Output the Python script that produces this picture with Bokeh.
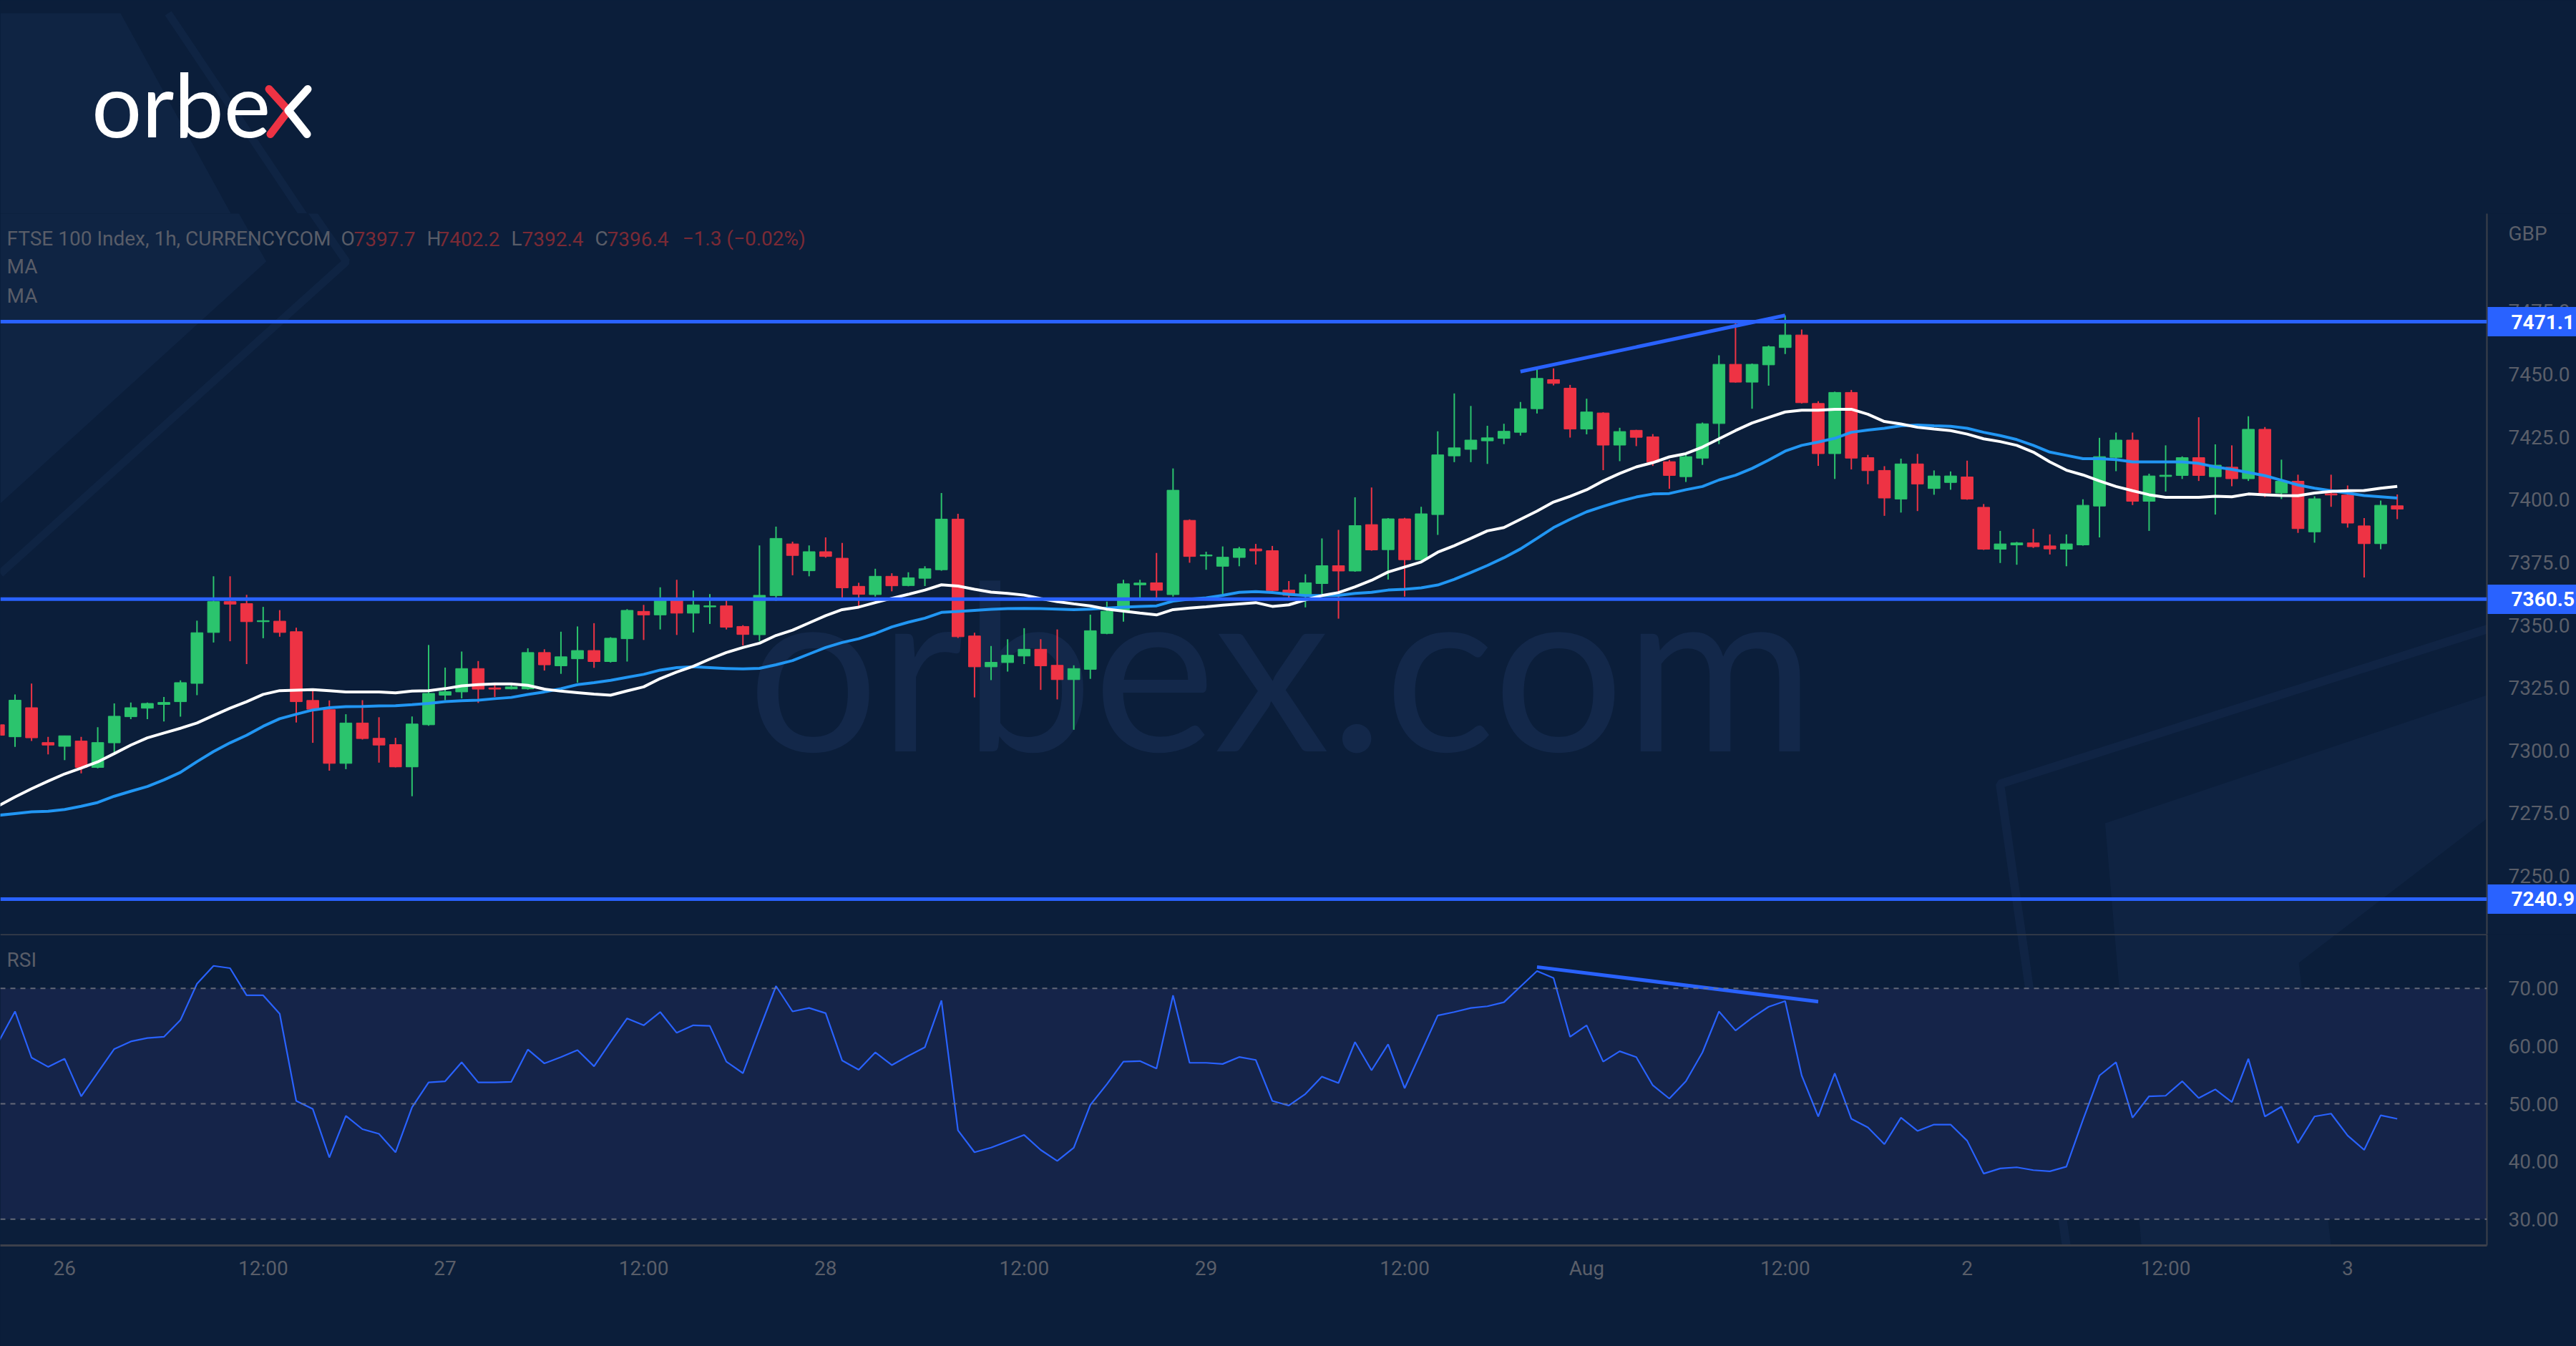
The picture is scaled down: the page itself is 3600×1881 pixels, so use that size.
from bokeh.plotting import figure
from bokeh.models import (Range1d, FixedTicker, NumeralTickFormatter, LinearAxis,
                          Label, Span, BoxAnnotation, ColumnDataSource)
from bokeh.layouts import column
from bokeh.embed import file_html
from bokeh.resources import INLINE

# ---------------- data ----------------
bar_index = list(range(-1, 145))

opens = [7310.4, 7305.6, 7317.2, 7303.3, 7301.8, 7303.9, 7293.4, 7303.2, 7313.6, 7317.0,
         7318.5, 7319.6, 7326.9, 7347.2, 7359.5, 7358.7, 7351.5, 7351.7, 7347.5, 7320.1,
         7316.4, 7295.0, 7311.1, 7305.0, 7302.5, 7293.6, 7310.4, 7322.2, 7323.5, 7332.8,
         7325.1, 7324.7, 7324.7, 7339.2, 7333.9, 7336.7, 7340.0, 7335.6, 7344.7, 7355.6,
         7354.2, 7360.5, 7354.9, 7357.4, 7357.8, 7349.6, 7346.3, 7361.9, 7382.5, 7371.8,
         7379.4, 7376.8, 7365.6, 7362.3, 7369.6, 7365.9, 7368.8, 7372.2, 7392.4, 7345.8,
         7333.5, 7335.2, 7337.8, 7340.5, 7334.1, 7328.4, 7332.5, 7346.8, 7356.0, 7366.2,
         7367.0, 7362.3, 7391.9, 7377.7, 7373.6, 7377.1, 7380.5, 7379.8, 7364.1, 7362.0,
         7366.7, 7373.8, 7371.7, 7390.2, 7380.2, 7392.5, 7376.2, 7394.2, 7417.6, 7420.2,
         7423.6, 7424.6, 7427.0, 7436.4, 7448.0, 7444.6, 7428.3, 7434.7, 7421.9, 7427.8,
         7425.2, 7415.3, 7409.3, 7416.7, 7430.5, 7454.1, 7447.0, 7453.9, 7460.8, 7465.8,
         7438.5, 7418.5, 7442.9, 7416.9, 7411.8, 7400.4, 7414.4, 7404.6, 7407.0, 7409.2,
         7397.1, 7380.4, 7382.1, 7382.9, 7381.7, 7380.4, 7382.1, 7397.6, 7417.0, 7423.9,
         7399.5, 7409.4, 7409.8, 7416.9, 7409.3, 7413.1, 7408.5, 7428.2, 7402.8, 7407.5,
         7387.3, 7402.5, 7402.0, 7389.7, 7382.6, 7397.7]
highs = [7311.8, 7322.5, 7326.8, 7305.6, 7306.0, 7305.6, 7309.4, 7318.9, 7319.3, 7319.3,
         7321.5, 7328.1, 7351.9, 7369.6, 7369.6, 7362.2, 7357.4, 7356.1, 7349.1, 7324.4,
         7320.1, 7314.6, 7320.2, 7313.4, 7305.2, 7313.7, 7342.2, 7333.2, 7339.6, 7335.8,
         7327.2, 7326.8, 7340.9, 7340.5, 7347.5, 7349.6, 7350.9, 7345.3, 7356.5, 7358.2,
         7365.2, 7368.2, 7363.9, 7362.5, 7360.5, 7350.1, 7381.9, 7389.4, 7383.4, 7381.9,
         7385.1, 7382.9, 7367.0, 7372.6, 7370.8, 7371.2, 7373.6, 7402.8, 7394.5, 7347.1,
         7341.8, 7344.5, 7348.9, 7344.5, 7348.4, 7334.1, 7354.3, 7359.5, 7368.2, 7368.2,
         7378.9, 7412.6, 7392.3, 7379.4, 7381.5, 7381.3, 7382.5, 7381.7, 7367.7, 7370.4,
         7384.7, 7388.1, 7401.1, 7405.0, 7392.8, 7392.9, 7397.3, 7427.4, 7442.5, 7437.5,
         7429.6, 7430.4, 7439.1, 7452.3, 7452.5, 7445.9, 7440.4, 7435.0, 7428.8, 7428.0,
         7426.3, 7416.0, 7418.0, 7430.9, 7457.7, 7470.9, 7454.4, 7461.6, 7473.6, 7468.0,
         7439.4, 7443.2, 7443.9, 7418.0, 7413.5, 7416.5, 7418.4, 7411.8, 7411.4, 7415.7,
         7398.4, 7387.7, 7383.3, 7388.5, 7386.3, 7386.3, 7400.3, 7424.8, 7426.9, 7426.9,
         7410.5, 7421.8, 7417.4, 7433.0, 7422.2, 7421.8, 7433.4, 7429.1, 7416.1, 7410.1,
         7401.5, 7410.1, 7405.8, 7392.8, 7399.8, 7402.2]
lows = [7305.0, 7301.6, 7303.9, 7298.6, 7296.3, 7291.0, 7293.0, 7298.4, 7312.6, 7312.6,
        7311.7, 7313.6, 7322.2, 7343.2, 7343.7, 7334.6, 7344.9, 7345.5, 7311.3, 7303.2,
        7292.1, 7292.7, 7304.5, 7295.3, 7293.4, 7281.9, 7310.0, 7320.2, 7320.9, 7319.1,
        7321.5, 7324.5, 7324.4, 7332.0, 7330.7, 7327.2, 7333.1, 7335.2, 7335.6, 7344.2,
        7348.4, 7346.2, 7347.2, 7350.6, 7348.4, 7342.0, 7343.8, 7359.8, 7370.0, 7369.6,
        7377.0, 7360.7, 7357.3, 7361.5, 7363.6, 7365.6, 7365.7, 7371.8, 7345.0, 7321.3,
        7328.2, 7331.6, 7334.6, 7324.3, 7320.5, 7308.4, 7328.7, 7346.5, 7351.5, 7360.8,
        7359.8, 7361.5, 7375.0, 7372.2, 7362.4, 7373.6, 7374.3, 7362.8, 7360.7, 7357.2,
        7362.5, 7352.7, 7371.4, 7379.8, 7368.3, 7361.5, 7375.9, 7386.1, 7415.1, 7415.1,
        7414.4, 7422.3, 7425.7, 7434.5, 7445.7, 7424.9, 7426.2, 7411.9, 7415.5, 7421.5,
        7413.6, 7404.5, 7407.2, 7414.0, 7422.3, 7446.8, 7436.4, 7445.6, 7458.2, 7438.5,
        7413.6, 7408.4, 7412.2, 7406.3, 7393.7, 7395.0, 7395.6, 7402.1, 7404.1, 7400.1,
        7380.1, 7374.9, 7374.2, 7380.9, 7378.3, 7373.6, 7381.8, 7385.1, 7411.5, 7398.0,
        7387.7, 7403.4, 7408.4, 7407.6, 7394.2, 7405.5, 7407.6, 7401.2, 7400.4, 7386.9,
        7383.0, 7397.3, 7389.0, 7369.1, 7380.4, 7392.4]
closes = [7306.2, 7320.2, 7305.2, 7302.3, 7306.0, 7293.4, 7303.3, 7313.8, 7317.2, 7318.9,
          7319.3, 7327.2, 7347.1, 7359.5, 7358.5, 7351.5, 7351.9, 7347.2, 7319.6, 7316.6,
          7295.0, 7311.1, 7304.9, 7302.3, 7293.6, 7310.7, 7322.9, 7323.6, 7332.8, 7324.6,
          7324.6, 7325.5, 7339.2, 7334.3, 7337.5, 7340.0, 7335.6, 7344.9, 7356.0, 7354.2,
          7360.5, 7354.9, 7358.2, 7357.8, 7349.3, 7346.4, 7362.0, 7384.7, 7377.9, 7379.4,
          7377.5, 7365.0, 7362.4, 7369.6, 7365.8, 7369.0, 7372.6, 7392.4, 7345.5, 7333.5,
          7335.3, 7338.1, 7340.5, 7333.9, 7328.4, 7332.8, 7347.9, 7355.7, 7366.6, 7366.9,
          7364.0, 7403.9, 7377.5, 7378.1, 7377.2, 7380.6, 7379.7, 7363.9, 7362.0, 7367.0,
          7373.8, 7371.7, 7389.8, 7380.1, 7392.5, 7376.2, 7394.5, 7418.0, 7420.8, 7423.9,
          7424.8, 7427.4, 7436.4, 7448.5, 7446.5, 7428.3, 7435.1, 7421.9, 7427.3, 7425.0,
          7415.1, 7409.8, 7417.3, 7430.4, 7454.1, 7447.0, 7454.1, 7461.1, 7465.8, 7438.8,
          7418.5, 7442.9, 7416.7, 7411.7, 7400.8, 7414.4, 7406.4, 7409.6, 7409.6, 7400.4,
          7380.4, 7382.5, 7382.9, 7381.4, 7380.5, 7382.5, 7397.9, 7417.3, 7423.9, 7399.5,
          7409.6, 7409.9, 7416.9, 7409.8, 7413.9, 7408.5, 7428.2, 7402.8, 7407.5, 7388.6,
          7400.5, 7402.0, 7390.8, 7382.6, 7397.9, 7396.4]

ma_fast = [7278.1, 7281.6, 7284.9, 7287.9, 7290.8, 7293.1, 7295.6, 7298.9, 7302.3, 7305.2,
           7307.1, 7309.0, 7311.1, 7314.1, 7317.0, 7319.6, 7322.5, 7324.0, 7324.2, 7324.4,
           7324.0, 7323.5, 7323.5, 7323.5, 7323.1, 7323.8, 7324.0, 7324.8, 7325.9, 7326.4,
           7326.7, 7326.7, 7326.1, 7324.6, 7323.8, 7323.2, 7322.6, 7322.2, 7323.9, 7325.5,
           7328.8, 7331.4, 7333.7, 7336.6, 7339.2, 7341.2, 7342.9, 7346.0, 7348.1, 7351.0,
           7353.9, 7356.3, 7357.3, 7359.1, 7360.8, 7362.4, 7364.1, 7366.2, 7365.7, 7364.4,
           7363.3, 7362.8, 7362.1, 7360.7, 7359.5, 7358.6, 7357.8, 7356.5, 7355.7, 7354.9,
           7354.2, 7356.3, 7356.9, 7357.4, 7358.1, 7358.6, 7359.1, 7357.6, 7358.2, 7360.2,
           7361.9, 7363.1, 7365.4, 7368.0, 7371.3, 7373.3, 7375.3, 7379.2, 7381.8, 7384.7,
           7387.7, 7389.0, 7392.3, 7395.6, 7399.2, 7401.5, 7404.1, 7407.6, 7410.6, 7413.2,
           7414.9, 7417.2, 7418.5, 7421.1, 7424.4, 7427.7, 7430.7, 7432.9, 7435.1, 7435.8,
           7435.8, 7436.2, 7436.2, 7434.2, 7431.3, 7430.3, 7429.0, 7428.3, 7427.7, 7426.3,
           7424.4, 7423.3, 7421.8, 7419.1, 7415.2, 7411.9, 7410.0, 7407.6, 7405.4, 7403.7,
           7402.1, 7401.1, 7401.1, 7401.1, 7401.5, 7401.3, 7402.4, 7402.1, 7401.8, 7401.7,
           7402.8, 7403.4, 7403.7, 7403.8, 7404.7, 7405.4]
ma_slow = [7274.3, 7275.0, 7275.7, 7275.9, 7276.6, 7277.9, 7279.4, 7281.9, 7283.9, 7285.8,
           7288.4, 7291.4, 7295.7, 7299.7, 7303.2, 7306.2, 7309.8, 7312.8, 7314.6, 7316.3,
           7317.2, 7317.6, 7317.7, 7317.9, 7318.0, 7318.4, 7318.9, 7319.6, 7320.0, 7320.2,
           7320.8, 7321.3, 7322.5, 7323.5, 7324.8, 7326.4, 7327.2, 7328.1, 7329.3, 7330.5,
           7332.2, 7333.2, 7333.5, 7333.2, 7332.8, 7332.7, 7332.9, 7334.3, 7336.0, 7338.6,
           7341.2, 7343.2, 7344.7, 7346.8, 7349.4, 7351.3, 7352.9, 7355.2, 7355.6, 7356.0,
           7356.4, 7356.7, 7356.8, 7356.7, 7356.5, 7356.3, 7356.5, 7356.9, 7357.3, 7357.6,
           7357.8, 7359.7, 7360.5, 7361.0, 7362.0, 7363.2, 7363.5, 7363.1, 7362.4, 7361.9,
           7361.9, 7362.0, 7362.8, 7363.2, 7364.1, 7364.4, 7365.0, 7366.1, 7368.4, 7371.1,
           7373.9, 7377.0, 7380.5, 7384.7, 7389.0, 7392.3, 7395.3, 7397.5, 7399.5, 7401.2,
           7402.4, 7402.6, 7404.1, 7405.4, 7408.0, 7409.9, 7412.6, 7415.9, 7419.5, 7421.8,
           7423.1, 7424.6, 7427.0, 7427.9, 7428.6, 7429.6, 7429.9, 7429.6, 7429.4, 7428.6,
           7427.0, 7425.7, 7424.1, 7421.8, 7419.1, 7417.8, 7416.5, 7416.5, 7416.1, 7415.2,
           7415.2, 7415.2, 7415.2, 7414.6, 7413.2, 7412.2, 7411.0, 7409.7, 7407.9, 7406.0,
           7404.7, 7403.7, 7402.8, 7401.8, 7401.3, 7400.8]

rsi = [60.7, 66.0, 58.0, 56.4, 57.8, 51.3, 55.4, 59.5, 60.8, 61.4,
       61.6, 64.5, 70.8, 73.9, 73.5, 68.8, 68.8, 65.6, 50.5, 49.1,
       40.7, 47.9, 45.6, 44.8, 41.6, 49.4, 53.7, 53.9, 57.2, 53.7,
       53.7, 53.8, 59.4, 57.0, 58.1, 59.3, 56.5, 60.7, 64.8, 63.6,
       65.9, 62.3, 63.6, 63.5, 57.3, 55.3, 62.9, 70.4, 66.0, 66.6,
       65.7, 57.5, 55.9, 58.9, 56.7, 58.3, 59.8, 67.9, 45.4, 41.6,
       42.4, 43.5, 44.6, 42.0, 40.1, 42.4, 49.8, 53.4, 57.3, 57.4,
       56.1, 68.8, 57.1, 57.1, 56.9, 58.1, 57.6, 50.5, 49.7, 51.7,
       54.7, 53.6, 60.7, 55.8, 60.3, 52.7, 59.0, 65.3, 65.9, 66.6,
       66.9, 67.6, 70.3, 73.0, 71.8, 61.6, 63.6, 57.3, 59.1, 58.1,
       53.2, 50.9, 53.9, 58.9, 66.0, 62.7, 64.9, 66.8, 67.8, 54.9,
       47.8, 55.3, 47.4, 45.9, 43.0, 47.6, 45.3, 46.4, 46.4, 43.6,
       37.9, 38.8, 39.0, 38.5, 38.3, 39.1, 47.2, 54.9, 57.2, 47.6,
       51.3, 51.4, 53.9, 51.0, 52.5, 50.3, 57.8, 47.8, 49.5, 43.2,
       47.8, 48.3, 44.5, 42.0, 48.0, 47.4]

levels = [7471.1, 7360.5, 7240.9]
price_ticks = [7250, 7275, 7300, 7325, 7350, 7375, 7400, 7425, 7450, 7475]
currency_label = "GBP"
currency_label_at = 7506.2
rsi_ticks = [30, 40, 50, 60, 70]
rsi_levels = [70, 50, 30]
time_tick_index = [3, 15, 26, 38, 49, 61, 72, 84, 95, 107, 118, 130, 141]
time_tick_labels = ["26", "12:00", "27", "12:00", "28", "12:00", "29", "12:00",
                    "Aug", "12:00", "2", "12:00", "3"]
price_div_x = [91, 107]
price_div_y = [7451.2, 7473.6]
rsi_div_x = [92, 109]
rsi_div_y = [73.7, 67.7]

# ---------------- style ----------------
BG = "#0b1e3a"
DECO = "#0f2443"
LIGHT = "#6f9cff"
GREEN = "#2bc46d"
RED = "#ee3344"
BLUE = "#2962ff"
MA_BLUE = "#2196f3"
AX = "#5a5e69"
SEP = "#3c404b"
FONT = "Roboto"
W = 3600
FRAME_W = 3478
RIGHT = W - FRAME_W
x_rng = Range1d(-0.886, 149.42)
P_LO, P_HI = 7226.9, 7514.2


def base(height, y_range, bottom=0):
    f = figure(width=W, height=height, x_range=x_rng, y_range=y_range,
               toolbar_location=None, output_backend="svg", title=None,
               x_axis_location=None, y_axis_location=None,
               min_border_left=0, min_border_right=RIGHT, min_border_top=0,
               min_border_bottom=bottom, background_fill_color=BG,
               border_fill_color=BG, outline_line_color=None)
    f.xgrid.visible = False
    f.ygrid.visible = False
    return f


# decorative shapes of the branded background (page pixels)
deco_poly = [(0, 18), (174, 18), (372, 365), (0, 703)]
deco_stripe = [(243, 18), (484, 365), (0, 801)]
deco_br_band = [(2944, 1150), (3600, 930), (3600, 1050), (3215, 1345), (3276, 1881), (3007, 1881)]
deco_br_stripe = [(3600, 840), (2797, 1095), (2910, 1881)]


def to_bar(px):
    return (px - 20.5) / 23.14


def to_price(py):
    return 7471.1 - (py - 449) / 3.505


def to_rsi(py):
    return 70 - (py - 1380.7) / 8.066


def add_br_deco(fig, conv_y):
    fig.patch([to_bar(q[0]) for q in deco_br_band], [conv_y(q[1]) for q in deco_br_band],
              fill_color=LIGHT, fill_alpha=0.045, line_color=None, level="underlay")
    fig.line([to_bar(q[0]) for q in deco_br_stripe], [conv_y(q[1]) for q in deco_br_stripe],
             line_color=LIGHT, line_alpha=0.05, line_width=12, level="underlay")


# ---------------- header (logo) ----------------
head = figure(width=W, height=298, x_range=Range1d(0, W), y_range=Range1d(0, 298),
              toolbar_location=None, output_backend="svg", title=None,
              x_axis_location=None, y_axis_location=None, min_border=0,
              background_fill_color=BG, border_fill_color=BG, outline_line_color=None)
head.xgrid.visible = False
head.ygrid.visible = False
head.patch([q[0] for q in deco_poly], [298 - q[1] for q in deco_poly],
           fill_color=DECO, line_color=None)
head.line([q[0] for q in deco_stripe], [298 - q[1] for q in deco_stripe],
          line_color=DECO, line_width=11)
head.add_layout(Label(x=132, y=155, text="orbe", text_font="Lato", text_font_size="124px",
                      text_color="#ffffff", text_baseline="middle"))
head.multi_line(xs=[[389, 417, 391]], ys=[[174, 144, 111]], line_color=RED,
                line_width=11, line_cap="round", line_join="round")
head.multi_line(xs=[[445, 417, 444]], ys=[[174, 144, 111]], line_color="#ffffff",
                line_width=11, line_cap="round", line_join="round")

# ---------------- price pane ----------------
p = base(1007, Range1d(P_LO, P_HI))

p.patch([to_bar(q[0]) for q in deco_poly], [to_price(q[1]) for q in deco_poly],
        fill_color=DECO, line_color=None, level="underlay")
p.line([to_bar(q[0]) for q in deco_stripe], [to_price(q[1]) for q in deco_stripe],
       line_color=DECO, line_width=11, level="underlay")
add_br_deco(p, to_price)

up = [c >= o for o, c in zip(opens, closes)]
src = ColumnDataSource(dict(
    x=bar_index, o=opens, h=highs, l=lows, c=closes,
    top=[max(o, c) for o, c in zip(opens, closes)],
    bot=[min(o, c) for o, c in zip(opens, closes)],
    col=[GREEN if u else RED for u in up]))

p.add_layout(Label(x=1790, y=381, x_units="screen", y_units="screen", text="orbex.com",
                   text_align="center", text_baseline="middle", text_font="Lato",
                   text_font_size="324px", text_color="#13284a", level="underlay"))

for lv in levels:
    p.add_layout(Span(location=lv, dimension="width", line_color=BLUE, line_width=5))

p.segment(x0="x", y0="h", x1="x", y1="l", color="col", line_width=2, source=src)
p.vbar(x="x", top="top", bottom="bot", width=0.72, fill_color="col",
       line_color="col", line_width=1, source=src)
p.line(bar_index, ma_slow, line_color=MA_BLUE, line_width=4)
p.line(bar_index, ma_fast, line_color="#ffffff", line_width=4)
p.line(price_div_x, price_div_y, line_color=BLUE, line_width=5)

# price scale (right)
pax = LinearAxis(ticker=FixedTicker(ticks=price_ticks + [currency_label_at]),
                 formatter=NumeralTickFormatter(format="0.0"),
                 major_label_overrides={currency_label_at: currency_label},
                 axis_line_color=SEP, axis_line_width=2,
                 major_tick_line_color=None, minor_tick_line_color=None,
                 major_label_standoff=24, major_label_text_color=AX,
                 major_label_text_font=FONT, major_label_text_font_size="28px")
p.add_layout(pax, "right")
# price tags of the horizontal levels (blue boxes drawn as wide ticks)
tag = LinearAxis(ticker=FixedTicker(ticks=levels, minor_ticks=[]),
                 formatter=NumeralTickFormatter(format="0.0"),
                 axis_line_color=None, minor_tick_line_color=None,
                 major_tick_line_color=BLUE, major_tick_line_width=41,
                 major_tick_in=118, major_tick_out=6,
                 major_label_standoff=-91, major_label_text_color="#ffffff",
                 major_label_text_font_style="bold",
                 major_label_text_font=FONT, major_label_text_font_size="28px")
p.add_layout(tag, "right")

HDR_Y = 972
GRAY_T = "#595d68"
RED_T = "#7a2a35"
pieces = [("FTSE 100 Index, 1h, CURRENCYCOM", 9, GRAY_T), ("O", 476, GRAY_T),
          ("7397.7", 494, RED_T), ("H", 596, GRAY_T), ("7402.2", 612, RED_T),
          ("L", 714, GRAY_T), ("7392.4", 729, RED_T), ("C", 831, GRAY_T),
          ("7396.4", 848, RED_T), ("\u22121.3 (\u22120.02%)", 953, RED_T)]
for t, xx, cc in pieces:
    p.add_layout(Label(x=xx, y=HDR_Y, x_units="screen", y_units="screen", text=t,
                       text_baseline="middle", text_font=FONT, text_font_size="28px",
                       text_color=cc))
for yy in (933, 892):
    p.add_layout(Label(x=9, y=yy, x_units="screen", y_units="screen", text="MA",
                       text_baseline="middle", text_font=FONT, text_font_size="28px",
                       text_color=GRAY_T))

# ---------------- RSI pane ----------------
r = base(576, Range1d(25.45, 79.39), bottom=141)
r.add_layout(BoxAnnotation(bottom=30, top=70, fill_color="#152449", fill_alpha=1.0,
                           line_color=None, level="underlay"))
add_br_deco(r, to_rsi)
for lv in rsi_levels:
    r.add_layout(Span(location=lv, dimension="width", line_color="#787b86",
                      line_alpha=0.8, line_width=2, line_dash="7 7"))
r.add_layout(Span(location=79.39, dimension="width", line_color=SEP, line_width=3))
r.line(bar_index, rsi, line_color=BLUE, line_width=2.2)
r.line(rsi_div_x, rsi_div_y, line_color=BLUE, line_width=5)

rax = LinearAxis(ticker=FixedTicker(ticks=rsi_ticks),
                 formatter=NumeralTickFormatter(format="0.00"),
                 axis_line_color=SEP, axis_line_width=2,
                 major_tick_line_color=None, minor_tick_line_color=None,
                 major_label_standoff=24, major_label_text_color=AX,
                 major_label_text_font=FONT, major_label_text_font_size="28px")
r.add_layout(rax, "right")
xax = LinearAxis(ticker=FixedTicker(ticks=time_tick_index),
                 major_label_overrides={k: v for k, v in zip(time_tick_index, time_tick_labels)},
                 axis_line_color=SEP, axis_line_width=3,
                 major_tick_line_color=None, minor_tick_line_color=None,
                 major_label_standoff=9, major_label_text_color=AX,
                 major_label_text_font=FONT, major_label_text_font_size="28px")
r.add_layout(xax, "below")
r.add_layout(Label(x=9, y=399, x_units="screen", y_units="screen", text="RSI",
                   text_baseline="middle", text_font=FONT, text_font_size="28px",
                   text_color=GRAY_T))

layout = column(head, p, r, spacing=0)
html = file_html(layout, INLINE)
css = ("<style>html, body, .bk-root, div { background-color: %s !important; }</style>" % BG)
html = html.replace("</head>", css + "</head>", 1)
open("out.html", "w").write(html)
